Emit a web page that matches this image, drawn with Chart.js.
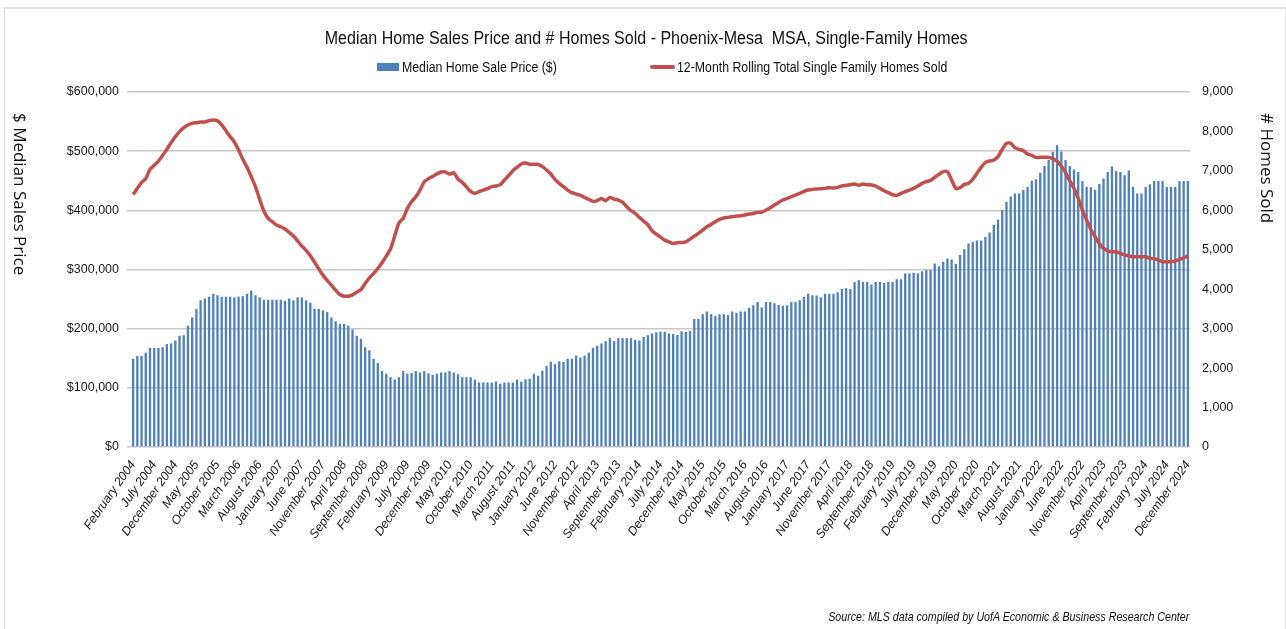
<!DOCTYPE html>
<html>
<head>
<meta charset="utf-8">
<title>Median Home Sales Price and # Homes Sold - Phoenix-Mesa MSA</title>
<script src="https://cdn.jsdelivr.net/npm/chart.js@4.4.1/dist/chart.umd.min.js"></script>
<style>
  html, body { margin: 0; padding: 0; background: #fff; }
  #wrap { position: relative; width: 1286px; height: 629px; overflow: hidden;
          font-family: 'Liberation Sans', sans-serif; color: #111; }
  #frame { position: absolute; left: 4px; top: 7px; width: 1280px; height: 640px;
           border-left: 1px solid #d9d9d9; border-top: 2px solid #e2e2e2; border-right: 1px solid #e6e6e6; }
  canvas { position: absolute; left: 0; top: 0; }
  #title { position: absolute; left: 0; top: 27px; width: 1292px; text-align: center; }
  #title span { display: inline-block; font-size: 18px; line-height: 22px; white-space: nowrap;
                transform: scaleX(0.89); }
  .lg { position: absolute; top: 58px; height: 18px; display: flex; align-items: center;
        white-space: nowrap; }
  .lg .txt { display: inline-block; font-size: 14px; transform: scaleX(0.88); transform-origin: left center; }
  .sw { display: inline-block; margin-right: 3px; }
  .sw.bar { width: 22px; height: 8px; background: #4f81bd; }
  .sw.line { width: 25px; height: 4px; background: #c0504d; border-radius: 2px; margin-right: 2px; }
  .axt { position: absolute; top: 113px; writing-mode: vertical-rl; font-family: 'Open Sans', sans-serif;
         font-size: 17px; line-height: 20px; color: #111; white-space: nowrap; }
  #source { position: absolute; right: 97px; top: 609px; font-size: 13px; font-style: italic; white-space: nowrap;
            transform: scaleX(0.82); transform-origin: right center; }
</style>
</head>
<body>
<div id="wrap">
  <div id="frame"></div>
  <canvas id="salesChart" width="1286" height="629"></canvas>
  <div id="title"><span>Median Home Sales Price and # Homes Sold - Phoenix-Mesa&nbsp; MSA, Single-Family Homes</span></div>
  <div class="lg" style="left:377px"><span class="sw bar"></span><span class="txt">Median Home Sale Price ($)</span></div>
  <div class="lg" style="left:650px"><span class="sw line"></span><span class="txt">12-Month Rolling Total Single Family Homes Sold</span></div>
  <div class="axt" style="left:10px">$ Median Sales Price</div>
  <div class="axt" style="left:1257px"># Homes Sold</div>
  <div id="source">Source: MLS data compiled by UofA Economic &amp; Business Research Center</div>
</div>
<script>
// --- data: monthly, February 2004 .. December 2024 ---
const monthNames = ['January', 'February', 'March', 'April', 'May', 'June', 'July',
  'August', 'September', 'October', 'November', 'December'];
const firstYear = 2004, firstMonth = 1, lastYear = 2024, lastMonth = 11;

const medianPrice = [
  149000, 154000, 154000, 159500, 167500, 167500, 167500, 168500, 174000, 175000,
  180000, 188000, 189000, 205000, 219000, 233500, 248000, 251000, 254000, 259000,
  256500, 254000, 254000, 254000, 253000, 254000, 255000, 259000, 264500, 256500,
  253000, 249000, 249000, 249000, 249000, 249000, 247000, 251000, 248000, 253000,
  253000, 248000, 244000, 233500, 233500, 231000, 228000, 219000, 212500, 208000,
  208000, 205000, 198500, 188000, 183000, 168500, 163500, 149000, 142000, 128500,
  124000, 118000, 114000, 118000, 128500, 124000, 125000, 128500, 126000, 128500,
  124500, 122000, 124000, 126000, 126000, 128500, 126000, 123000, 118000, 118000,
  118000, 114000, 109000, 109000, 109000, 109000, 110500, 107000, 109000, 109000,
  109000, 114000, 110500, 114500, 115500, 124000, 120500, 129000, 137000, 144000,
  140000, 145000, 144000, 149000, 149000, 154500, 151500, 154500, 159500, 167500,
  171000, 175000, 179000, 184000, 179000, 184000, 184000, 184000, 184000, 181000,
  180000, 186000, 189000, 192000, 194000, 195000, 195000, 192000, 191000, 189500,
  195500, 194500, 196000, 216500, 216500, 224500, 229000, 224500, 221500, 224500,
  224500, 223000, 229000, 227000, 229000, 229000, 235000, 239500, 245000, 236000,
  245000, 245000, 243000, 240000, 238500, 239500, 245000, 245000, 248000, 254000,
  259000, 256500, 256000, 253000, 259000, 259000, 259000, 261500, 267000, 268500,
  267000, 278500, 282000, 279000, 279000, 274500, 279000, 279000, 277500, 279000,
  279000, 283500, 283500, 293500, 293500, 294500, 293500, 297000, 299000, 299000,
  310000, 305500, 313000, 318500, 317000, 309500, 324500, 334500, 344000, 347000,
  349000, 349000, 355000, 362500, 375500, 384500, 400500, 414500, 423500, 428500,
  428500, 434500, 440000, 450000, 452500, 463500, 475000, 485000, 499000, 510000,
  499500, 485000, 475000, 469000, 465000, 449500, 440000, 439000, 434500, 444500,
  454000, 465000, 474000, 466500, 465000, 459500, 467500, 440000, 428500, 428500,
  439500, 444000, 449500, 449500, 449500, 439500, 439500, 439500, 449500, 449500,
  449500
];

const homesSold = [
  6404, 6557, 6709, 6802, 7039, 7140, 7250, 7394, 7546, 7716,
  7868, 7995, 8096, 8164, 8206, 8223, 8240, 8240, 8274, 8291,
  8274, 8164, 8020, 7868, 7733, 7530, 7293, 7090, 6853, 6599,
  6277, 5981, 5795, 5711, 5626, 5584, 5525, 5440, 5347, 5228,
  5093, 4983, 4848, 4687, 4518, 4357, 4222, 4103, 3976, 3866,
  3824, 3824, 3858, 3926, 3993, 4146, 4289, 4399, 4526, 4670,
  4839, 5020, 5350, 5680, 5795, 6049, 6218, 6345, 6514, 6726,
  6802, 6861, 6920, 6971, 6971, 6920, 6954, 6794, 6709, 6599,
  6481, 6430, 6472, 6514, 6548, 6599, 6616, 6650, 6768, 6878,
  7005, 7090, 7174, 7200, 7166, 7166, 7166, 7107, 7022, 6920,
  6785, 6684, 6599, 6514, 6447, 6413, 6379, 6328, 6277, 6227,
  6244, 6303, 6244, 6328, 6286, 6261, 6210, 6091, 5990, 5922,
  5821, 5728, 5635, 5482, 5398, 5320, 5245, 5200, 5161, 5178,
  5186, 5203, 5271, 5347, 5415, 5499, 5584, 5643, 5711, 5770,
  5804, 5821, 5838, 5855, 5863, 5880, 5905, 5922, 5948, 5956,
  6007, 6066, 6134, 6201, 6261, 6303, 6345, 6387, 6430, 6481,
  6514, 6531, 6540, 6548, 6557, 6574, 6565, 6582, 6616, 6633,
  6650, 6667, 6633, 6667, 6650, 6641, 6616, 6557, 6497, 6447,
  6396, 6379, 6430, 6472, 6514, 6557, 6616, 6684, 6726, 6760,
  6836, 6912, 6980, 6980, 6768, 6557, 6574, 6658, 6684, 6785,
  6937, 7090, 7217, 7250, 7276, 7360, 7546, 7699, 7699, 7589,
  7546, 7513, 7428, 7394, 7343, 7343, 7343, 7343, 7310, 7242,
  7123, 6954, 6751, 6557, 6303, 6007, 5753, 5516, 5330, 5161,
  5034, 4975, 4949, 4949, 4907, 4865, 4848, 4822, 4822, 4822,
  4822, 4780, 4780, 4738, 4695, 4695, 4695, 4721, 4755, 4797,
  4848
];

const priceTicks = { min: 0, max: 600000, step: 100000 };
const soldTicks = { min: 0, max: 9000, step: 1000 };
const labelEvery = 5;

// month labels
const months = [];
for (let y = firstYear, m = firstMonth; y < lastYear || (y === lastYear && m <= lastMonth); ) {
    months.push(monthNames[m] + ' ' + y);
    m++;
    if (m > 11) { m = 0; y++; }
}

Chart.defaults.font.family = "'Liberation Sans', sans-serif";
Chart.defaults.color = '#1a1a1a';

const ctx = document.getElementById('salesChart').getContext('2d');
new Chart(ctx, {
    data: {
        labels: months,
        datasets: [
            {
                type: 'line',
                label: '12-Month Rolling Total Single Family Homes Sold',
                data: homesSold,
                yAxisID: 'y1',
                borderColor: '#c0504d',
                borderWidth: 3.5,
                pointRadius: 0,
                tension: 0.25,
                order: 0
            },
            {
                type: 'bar',
                label: 'Median Home Sale Price ($)',
                data: medianPrice,
                yAxisID: 'y',
                backgroundColor: '#4f81bd',
                barPercentage: 0.55,
                categoryPercentage: 1,
                order: 1
            }
        ]
    },
    options: {
        responsive: false,
        animation: false,
        layout: { padding: { left: 40, right: 40, top: 92, bottom: 32 } },
        plugins: {
            legend: { display: false },
            tooltip: { enabled: false },
            title: { display: false }
        },
        scales: {
            x: {
                grid: { display: false },
                border: { display: false },
                ticks: {
                    autoSkip: false,
                    minRotation: 55,
                    maxRotation: 55,
                    padding: 3,
                    font: { size: 12.4, style: 'italic' },
                    callback: function (value, index) {
                        return index % labelEvery === 0 ? this.getLabelForValue(value) : null;
                    }
                },
                afterFit: (scale) => { scale.height = 150; }
            },
            y: {
                position: 'left',
                min: priceTicks.min,
                max: priceTicks.max,
                grid: { color: '#c8c8c8', lineWidth: 1.5, tickLength: 4 },
                border: { display: false },
                ticks: {
                    stepSize: priceTicks.step,
                    padding: 8,
                    font: { size: 12.5 },
                    callback: (v) => '$' + v.toLocaleString('en-US')
                },
                afterFit: (scale) => { scale.width = 91; }
            },
            y1: {
                position: 'right',
                min: soldTicks.min,
                max: soldTicks.max,
                grid: { drawOnChartArea: false, drawTicks: false },
                border: { display: false },
                ticks: {
                    stepSize: soldTicks.step,
                    padding: 12,
                    font: { size: 12.5 },
                    callback: (v) => v.toLocaleString('en-US')
                },
                afterFit: (scale) => { scale.width = 56; }
            }
        }
    }
});
</script>
</body>
</html>
